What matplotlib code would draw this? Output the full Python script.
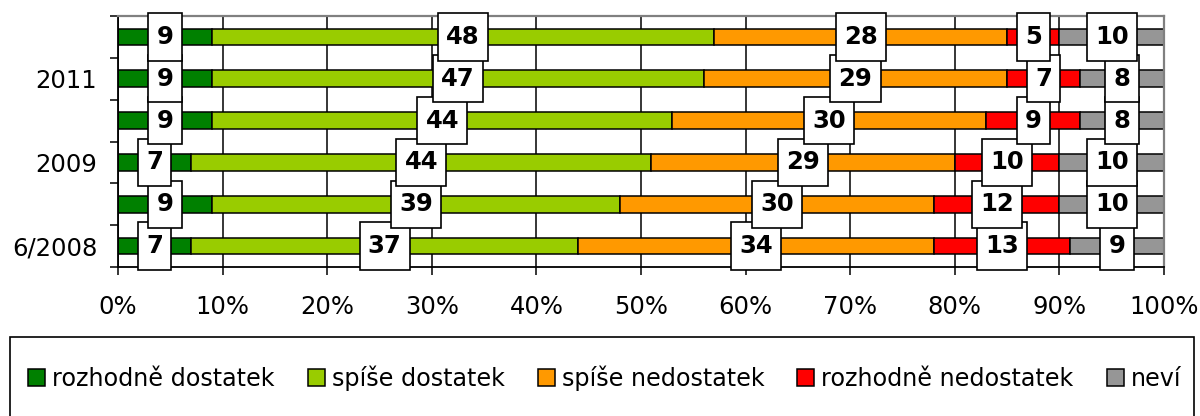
import numpy as np
import matplotlib
matplotlib.use("Agg")
import matplotlib.pyplot as plt
from matplotlib.patches import Rectangle
from matplotlib.path import Path
from matplotlib.ticker import FuncFormatter

# rows from bottom to top
rows = ["6/2008", "", "2009", "", "2011", ""]

series_names = ["rozhodně dostatek", "spíše dostatek", "spíše nedostatek",
                "rozhodně nedostatek", "neví"]
rozhodne_dostatek = [7, 9, 7, 9, 9, 9]
spise_dostatek = [37, 39, 44, 44, 47, 48]
spise_nedostatek = [34, 30, 29, 30, 29, 28]
rozhodne_nedostatek = [13, 12, 10, 9, 7, 5]
nevi = [9, 10, 10, 8, 8, 10]

colors = ["#008000", "#99CC00", "#FF9900", "#FF0000", "#969696"]

plt.rcParams["font.family"] = ["DejaVu Sans"]


def tall_box(x0, y0, width, height, mutation_size):
    # rectangle with more padding top/bottom than left/right
    px = 0.34 * mutation_size
    py = 0.48 * mutation_size
    x0, y0 = x0 - px, y0 - py
    x1, y1 = x0 + width + 2 * px, y0 + height + 2 * py
    return Path([(x0, y0), (x1, y0), (x1, y1), (x0, y1), (x0, y0)], closed=True)


fig = plt.figure(figsize=(12, 4.16), dpi=100)
ax = fig.add_axes([118 / 1200, 1 - 267 / 416, 1046 / 1200, 251 / 416])

y = np.arange(len(rows))
left = np.zeros(len(rows))
containers = []
for name, vals, col in zip(series_names,
                           [rozhodne_dostatek, spise_dostatek, spise_nedostatek,
                            rozhodne_nedostatek, nevi], colors):
    bars = ax.barh(y, vals, left=left, height=0.4, color=col,
                   edgecolor="black", linewidth=1.1, label=name, zorder=2)
    containers.append(bars)
    left += np.array(vals)

# data labels in white boxes
for bars in containers:
    ax.bar_label(bars, label_type="center", fontsize=17.5, fontweight="bold",
                 bbox=dict(boxstyle=tall_box, fc="white", ec="black", lw=1.2),
                 zorder=4)

ax.set_xlim(0, 100)
ax.set_ylim(-0.5, len(rows) - 0.5)
ax.set_xticks(range(0, 101, 10))
ax.xaxis.set_major_formatter(FuncFormatter(lambda v, p: f"{int(v)}%"))
ax.set_yticks(y)
ax.set_yticklabels(rows)
ax.set_yticks(np.arange(-0.5, len(rows), 1), minor=True)

ax.tick_params(axis="x", direction="out", length=6, width=1.1, pad=14.5, labelsize=17.5)
ax.tick_params(axis="y", which="major", length=0, pad=15, labelsize=17.5)
ax.tick_params(axis="y", which="minor", direction="out", length=6, width=1.1)

ax.xaxis.grid(True, color="black", linewidth=1.1)
ax.set_axisbelow(True)

for s in ["left", "bottom"]:
    ax.spines[s].set_color("black")
    ax.spines[s].set_linewidth(1.3)
for s in ["top", "right"]:
    ax.spines[s].set_color("#808080")
    ax.spines[s].set_linewidth(1.6)

# legend
fig.legend(handles=containers, labels=series_names, loc="center left",
           bbox_to_anchor=(28 / 1200, 1 - 378 / 416), ncol=5, frameon=False,
           fontsize=17.2, handlelength=0.71, handleheight=0.71, handletextpad=0.3,
           columnspacing=1.38, borderpad=0, borderaxespad=0)
fig.patches.append(Rectangle((10 / 1200, 1 - 440 / 416), 1184 / 1200, 103 / 416,
                             transform=fig.transFigure, fill=False,
                             edgecolor="black", linewidth=1.2))

fig.savefig("out.png", dpi=100)
